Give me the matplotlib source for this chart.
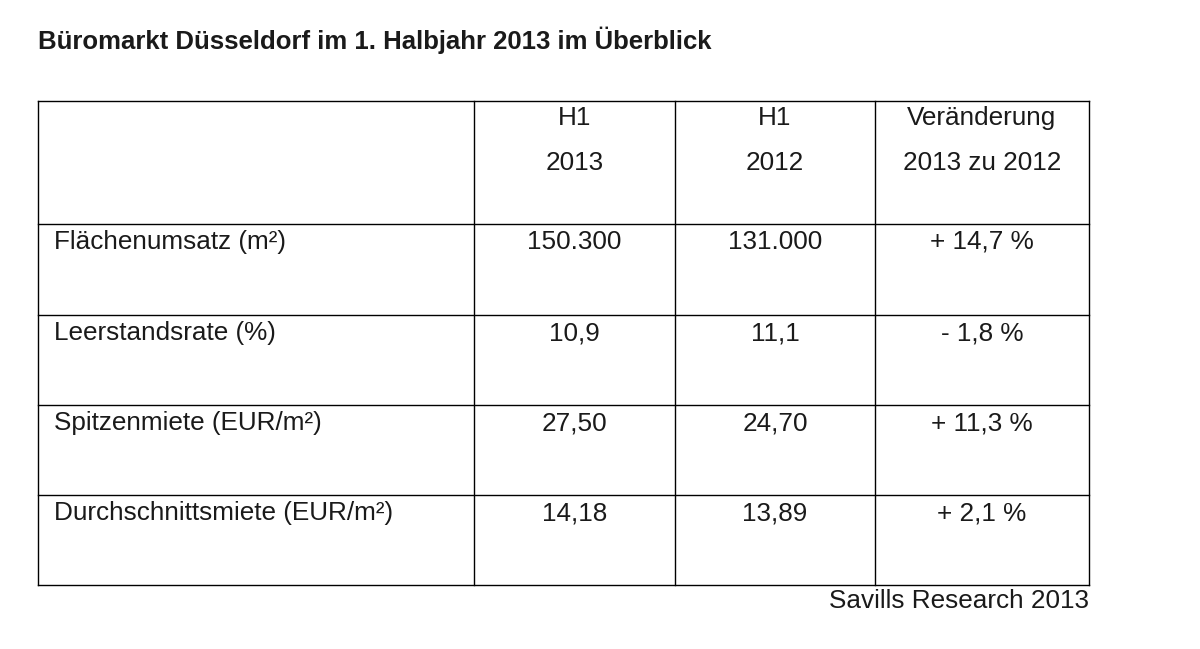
import matplotlib.pyplot as plt
from matplotlib.lines import Line2D

plt.rcParams['font.family'] = ['Liberation Sans', 'DejaVu Sans']

title = "Büromarkt Düsseldorf im 1. Halbjahr 2013 im Überblick"
header_top = ["H1", "H1", "Veränderung"]
header_bottom = ["2013", "2012", "2013 zu 2012"]
rows = ["Flächenumsatz (m²)", "Leerstandsrate (%)", "Spitzenmiete (EUR/m²)", "Durchschnittsmiete (EUR/m²)"]
h1_2013 = ["150.300", "10,9", "27,50", "14,18"]
h1_2012 = ["131.000", "11,1", "24,70", "13,89"]
change = ["+ 14,7 %", "- 1,8 %", "+ 11,3 %", "+ 2,1 %"]
source = "Savills Research 2013"

W, H = 1200, 649
fig = plt.figure(figsize=(W / 100, H / 100), dpi=100)
txt = '#1a1a1a'

def fx(px):
    return px / W

def fy(py):
    return 1 - py / H

col_x = [38, 474, 675, 875, 1089]
row_y = [101, 224, 315, 405, 495, 585]

for x in col_x:
    fig.add_artist(Line2D([fx(x), fx(x)], [fy(row_y[0]), fy(row_y[-1])], color='black', lw=1))
for y in row_y:
    fig.add_artist(Line2D([fx(col_x[0]), fx(col_x[-1])], [fy(y), fy(y)], color='black', lw=1))

fig.text(fx(38), fy(40), title, fontsize=18.5, fontweight='bold', va='center', ha='left', color=txt)

centers = [(col_x[i] + col_x[i + 1]) / 2 for i in range(1, 4)]
for cx, t, b in zip(centers, header_top, header_bottom):
    fig.text(fx(cx), fy(118), t, fontsize=18.8, ha='center', va='center', color=txt)
    fig.text(fx(cx), fy(163), b, fontsize=18.8, ha='center', va='center', color=txt)

for i, label in enumerate(rows):
    y = row_y[i + 1] + 18
    fig.text(fx(54), fy(y), label, fontsize=18.8, ha='left', va='center', color=txt)
    for cx, val in zip(centers, [h1_2013[i], h1_2012[i], change[i]]):
        fig.text(fx(cx), fy(y), val, fontsize=18.8, ha='center', va='center', color=txt)

fig.text(fx(1089), fy(601), source, fontsize=18.8, ha='right', va='center', color=txt)

fig.savefig('out.png', dpi=100, facecolor='white')
